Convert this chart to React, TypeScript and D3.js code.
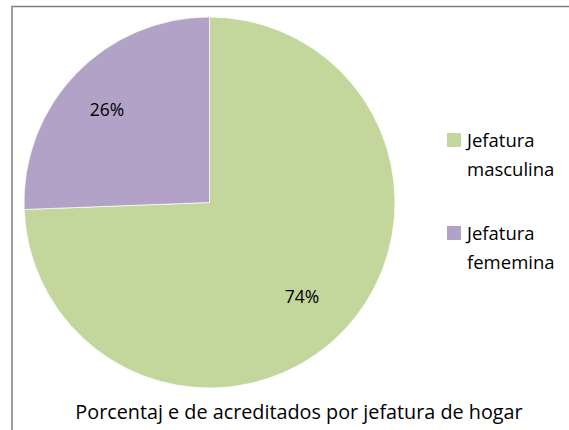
import React, { useEffect, useRef } from "react";
import * as d3 from "d3";

const categories = ["Jefatura masculina", "Jefatura fememina"];
const values = [74.4, 25.6];
const valueLabels = ["74%", "26%"];
const colors = ["#C3D69B", "#B2A2C7"];
const title = "Porcentaj e de acreditados por jefatura de hogar";

const App = () => {
  const svgRef = useRef<SVGSVGElement | null>(null);

  useEffect(() => {
    const width = 569;
    const height = 430;
    const cx = 209.5;
    const cy = 202.5;
    const radius = 185.5;
    const font = "'Open Sans', 'Liberation Sans', sans-serif";

    const svg = d3.select(svgRef.current).attr("width", width).attr("height", height);
    svg.selectAll("*").remove();

    svg
      .append("rect")
      .attr("x", 12)
      .attr("y", 6.5)
      .attr("width", width)
      .attr("height", height)
      .attr("fill", "white")
      .attr("stroke", "#7f7f7f")
      .attr("stroke-width", 1.5);

    const pie = d3
      .pie<number>()
      .sort(null)
      .value((d) => d);
    const arcs = pie(values);

    const arc = d3.arc<d3.PieArcDatum<number>>().innerRadius(0).outerRadius(radius);
    const labelArc = d3
      .arc<d3.PieArcDatum<number>>()
      .innerRadius(radius * 0.73)
      .outerRadius(radius * 0.73);

    const g = svg.append("g").attr("transform", `translate(${cx},${cy})`);

    g.selectAll("path")
      .data(arcs)
      .enter()
      .append("path")
      .attr("d", arc)
      .attr("fill", (d, i) => colors[i])
      .attr("stroke", "white")
      .attr("stroke-width", 0.7);

    g.selectAll("text.lbl")
      .data(arcs)
      .enter()
      .append("text")
      .attr("class", "lbl")
      .attr("x", (d) => labelArc.centroid(d)[0] - 5)
      .attr("y", (d) => labelArc.centroid(d)[1])
      .attr("text-anchor", "middle")
      .attr("dominant-baseline", "central")
      .attr("font-family", font)
      .attr("font-size", 17.5)
      .attr("fill", "#000")
      .text((d, i) => valueLabels[i]);

    // legend
    const legendY = d3.scaleBand().domain(categories).range([124, 310]);
    const legend = svg
      .selectAll("g.leg")
      .data(categories)
      .enter()
      .append("g")
      .attr("class", "leg")
      .attr("transform", (d) => `translate(447,${legendY(d)})`);

    legend
      .append("rect")
      .attr("x", 0)
      .attr("y", 9)
      .attr("width", 14)
      .attr("height", 14)
      .attr("fill", (d, i) => colors[i]);

    legend
      .append("text")
      .attr("x", 20)
      .attr("y", 22.5)
      .attr("font-family", font)
      .attr("font-size", 18.5)
      .attr("fill", "#000")
      .selectAll("tspan")
      .data((d) => d.split(" "))
      .enter()
      .append("tspan")
      .attr("x", 20)
      .attr("dy", (d, i) => (i === 0 ? 0 : 29))
      .text((d) => d);

    svg
      .append("text")
      .attr("x", 299)
      .attr("y", 419)
      .attr("text-anchor", "middle")
      .attr("font-family", font)
      .attr("font-size", 19.8)
      .attr("fill", "#000")
      .text(title);
  }, []);

  return (
    <svg
      ref={svgRef}
      style={{ position: "absolute", top: 0, left: 0, background: "white" }}
    ></svg>
  );
};

export default App;
